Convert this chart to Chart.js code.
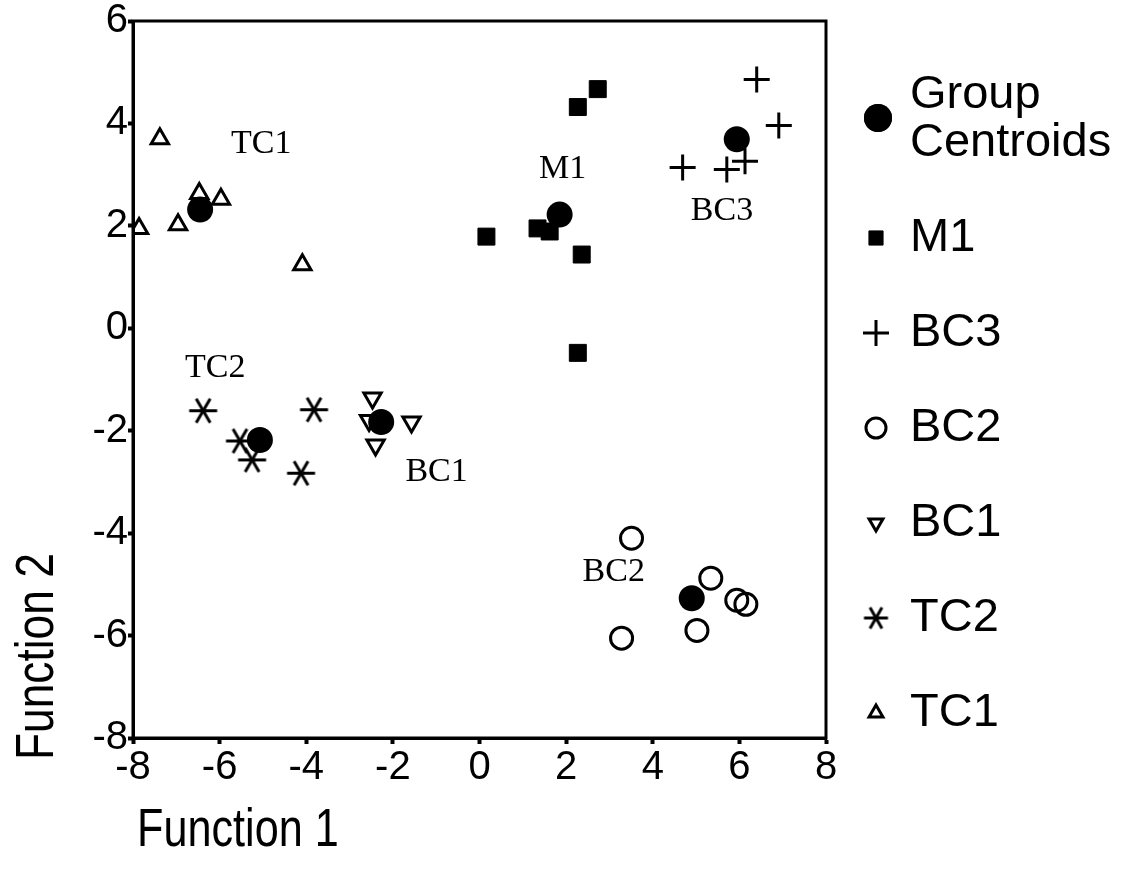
<!DOCTYPE html>
<html>
<head>
<meta charset="utf-8">
<title>Discriminant function scores</title>
<script src="https://cdn.jsdelivr.net/npm/chart.js@4/dist/chart.umd.min.js"></script>
<style>
  html, body { margin: 0; padding: 0; background: #ffffff; }
  canvas { display: block; }
</style>
</head>
<body>
<canvas id="plot" width="1134" height="881"></canvas>
<script>
// Canonical discriminant scores per group (Function 1, Function 2)
const m1X  = [2.73, 2.27, 0.16, 1.34, 1.62, 2.36, 2.27];
const m1Y  = [4.67, 4.32, 1.79, 1.95, 1.89, 1.44, -0.48];
const bc3X = [6.40, 6.91, 4.69, 5.71, 6.13];
const bc3Y = [4.86, 3.96, 3.14, 3.10, 3.26];
const bc2X = [3.51, 5.34, 5.94, 6.15, 5.02, 3.28];
const bc2Y = [-4.10, -4.88, -5.31, -5.39, -5.90, -6.05];
const bc1X = [-2.47, -1.57, -2.40, -2.55];
const bc1Y = [-1.36, -1.83, -2.28, -1.80];
const tc2X = [-6.38, -3.82, -5.53, -5.25, -4.12];
const tc2Y = [-1.61, -1.59, -2.20, -2.57, -2.83];
const tc1X = [-7.38, -7.86, -6.96, -6.47, -5.97, -4.09];
const tc1Y = [3.70, 1.95, 2.02, 2.63, 2.52, 1.24];

// Group centroids, in the order of groupNames
const groupNames = ['M1', 'BC3', 'BC2', 'BC1', 'TC2', 'TC1'];
const centroidX  = [1.85, 5.94, 4.90, -2.27, -5.07, -6.45];
const centroidY  = [2.22, 3.69, -5.27, -1.83, -2.18, 2.32];

// Where each group name is written inside the plot
const groupLabelX = [1.92, 5.60, 3.10, -0.99, -6.10, -5.04];
const groupLabelY = [3.10, 2.28, -4.76, -2.81, -0.77, 3.59];

// Axis ticks
const xTicks = [-8, -6, -4, -2, 0, 2, 4, 6, 8];
const yTicks = [-8, -6, -4, -2, 0, 2, 4, 6];

const pairs = (xs, ys) => xs.map((x, i) => ({ x: x, y: ys[i] }));

// Six-armed asterisk marker
function asterisk(radius, width) {
  const size = Math.ceil(radius * 2 + width + 2);
  const cv = document.createElement('canvas');
  cv.width = size; cv.height = size;
  const g = cv.getContext('2d');
  g.translate(size / 2, size / 2);
  g.strokeStyle = '#000';
  g.lineWidth = width;
  g.lineCap = 'butt';
  for (const a of [0, Math.PI / 3, -Math.PI / 3]) {
    g.beginPath();
    g.moveTo(-Math.cos(a) * radius, -Math.sin(a) * radius);
    g.lineTo(Math.cos(a) * radius, Math.sin(a) * radius);
    g.stroke();
  }
  return cv;
}
const asteriskPlot = asterisk(14, 3);
const asteriskKey = asterisk(12, 3);

const hollow = 'rgba(0,0,0,0)';
const styles = {
  'M1':  { pointStyle: 'rect', radius: 12, rotation: 0, borderWidth: 1, backgroundColor: '#000' },
  'BC3': { pointStyle: 'cross', radius: 13, rotation: 0, borderWidth: 3, backgroundColor: hollow },
  'BC2': { pointStyle: 'circle', radius: 11, rotation: 0, borderWidth: 3, backgroundColor: hollow },
  'BC1': { pointStyle: 'triangle', radius: 10, rotation: 180, borderWidth: 3, backgroundColor: hollow },
  'TC2': { pointStyle: asteriskPlot, radius: 14, rotation: 0, borderWidth: 3, backgroundColor: hollow },
  'TC1': { pointStyle: 'triangle', radius: 10, rotation: 0, borderWidth: 3, backgroundColor: hollow }
};

function groupSet(name, pts) {
  const s = styles[name];
  return {
    label: name,
    data: pts,
    pointStyle: s.pointStyle,
    pointRadius: s.radius,
    pointRotation: s.rotation,
    pointBorderWidth: s.borderWidth,
    pointBorderColor: '#000',
    pointBackgroundColor: s.backgroundColor,
    showLine: false,
    order: 2
  };
}

const datasets = [
  groupSet('M1', pairs(m1X, m1Y)),
  groupSet('BC3', pairs(bc3X, bc3Y)),
  groupSet('BC2', pairs(bc2X, bc2Y)),
  groupSet('BC1', pairs(bc1X, bc1Y)),
  groupSet('TC2', pairs(tc2X, tc2Y)),
  groupSet('TC1', pairs(tc1X, tc1Y)),
  {
    label: 'Group Centroids',
    data: pairs(centroidX, centroidY),
    pointStyle: 'circle',
    pointRadius: 13,
    pointBorderWidth: 0,
    pointBackgroundColor: '#000',
    pointBorderColor: '#000',
    showLine: false,
    order: 1
  }
];

// Box around the plotting area
const frame = {
  id: 'frame',
  beforeDatasetsDraw(chart) {
    const { ctx, chartArea: a } = chart;
    ctx.save();
    ctx.strokeStyle = '#000';
    ctx.lineWidth = 3;
    ctx.strokeRect(a.left, a.top, a.right - a.left, a.bottom - a.top);
    ctx.restore();
  }
};

// Group names inside the plot, axis titles and the key on the right
const annotations = {
  id: 'annotations',
  afterDraw(chart) {
    const { ctx, scales } = chart;
    ctx.save();
    ctx.fillStyle = '#000';

    ctx.font = '34px "Liberation Serif", "Times New Roman", serif';
    ctx.textAlign = 'center';
    ctx.textBaseline = 'middle';
    groupNames.forEach((name, i) => {
      ctx.fillText(name, scales.x.getPixelForValue(groupLabelX[i]), scales.y.getPixelForValue(groupLabelY[i]));
    });

    // Axis titles, in a condensed sans face
    ctx.font = '54px "Liberation Sans", Arial, sans-serif';
    ctx.textAlign = 'left';
    ctx.textBaseline = 'middle';
    ctx.save();
    ctx.translate(137, 831);
    ctx.scale(0.8, 1);
    ctx.fillText('Function 1', 0, 0);
    ctx.restore();

    ctx.save();
    ctx.translate(38, 760);
    ctx.rotate(-Math.PI / 2);
    ctx.scale(0.82, 1);
    ctx.fillText('Function 2', 0, 0);
    ctx.restore();

    // Key
    const keyX = 876, textX = 910;
    ctx.font = '47px "Liberation Sans", Arial, sans-serif';
    ctx.textAlign = 'left';
    ctx.textBaseline = 'middle';
    Chart.helpers.drawPoint(ctx, { pointStyle: 'circle', radius: 14, borderWidth: 0 }, keyX + 2, 118);
    ctx.fillStyle = '#000';
    ctx.beginPath(); ctx.arc(keyX + 2, 118, 14, 0, Math.PI * 2); ctx.fill();
    ctx.fillText('Group', textX, 95);
    ctx.fillText('Centroids', textX, 143);

    const keyStyles = {
      'M1':  { pointStyle: 'rect', radius: 10, rotation: 0, borderWidth: 1, fill: '#000' },
      'BC3': { pointStyle: 'cross', radius: 13, rotation: 0, borderWidth: 3, fill: hollow },
      'BC2': { pointStyle: 'circle', radius: 10, rotation: 0, borderWidth: 3, fill: hollow },
      'BC1': { pointStyle: 'triangle', radius: 8, rotation: 180, borderWidth: 3, fill: hollow },
      'TC2': { pointStyle: asteriskKey, radius: 12, rotation: 0, borderWidth: 3, fill: hollow },
      'TC1': { pointStyle: 'triangle', radius: 8, rotation: 0, borderWidth: 3, fill: hollow }
    };
    groupNames.forEach((name, i) => {
      const y = 238 + i * 95;
      const k = keyStyles[name];
      ctx.strokeStyle = '#000';
      ctx.fillStyle = k.fill;
      ctx.lineWidth = k.borderWidth;
      Chart.helpers.drawPoint(ctx, { pointStyle: k.pointStyle, radius: k.radius, rotation: k.rotation, borderWidth: k.borderWidth }, keyX, y);
      ctx.fillStyle = '#000';
      ctx.fillText(name, textX, y);
    });
    ctx.restore();
  }
};

new Chart(document.getElementById('plot'), {
  type: 'scatter',
  data: { datasets: datasets },
  options: {
    responsive: false,
    animation: false,
    events: [],
    layout: { padding: { top: 21, right: 308, left: 0, bottom: 0 } },
    plugins: { legend: { display: false }, tooltip: { enabled: false } },
    scales: {
      x: {
        type: 'linear',
        min: xTicks[0],
        max: xTicks[xTicks.length - 1],
        afterBuildTicks: s => { s.ticks = xTicks.map(v => ({ value: v })); },
        afterFit: s => { s.height = 143; },
        ticks: {
          color: '#000',
          padding: 4,
          maxRotation: 0,
          font: { family: '"Liberation Sans", Arial, sans-serif', size: 40, lineHeight: 1 }
        },
        grid: { drawOnChartArea: false, drawTicks: true, tickLength: 6, tickWidth: 4, tickColor: '#000' },
        border: { display: true, color: '#000', width: 3 }
      },
      y: {
        type: 'linear',
        min: yTicks[0],
        max: yTicks[yTicks.length - 1],
        afterBuildTicks: s => { s.ticks = yTicks.map(v => ({ value: v })); },
        afterFit: s => { s.width = 133; },
        ticks: {
          color: '#000',
          padding: 0,
          font: { family: '"Liberation Sans", Arial, sans-serif', size: 40, lineHeight: 1 }
        },
        grid: { drawOnChartArea: false, drawTicks: true, tickLength: 5, tickWidth: 4, tickColor: '#000' },
        border: { display: true, color: '#000', width: 3 }
      }
    }
  },
  plugins: [frame, annotations]
});
</script>
</body>
</html>
